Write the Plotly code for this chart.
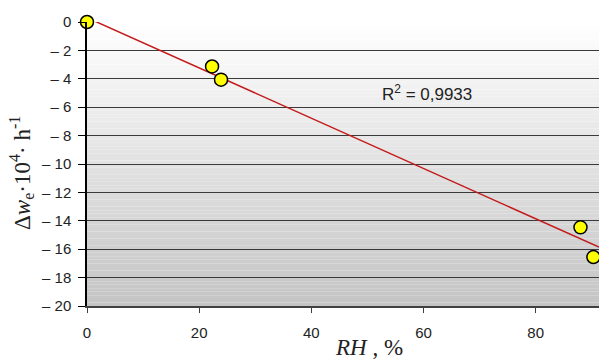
import numpy as np
import plotly.graph_objects as go

# Data
rh = [0, 22.3, 23.9, 88.0, 90.3]
dwe = [0, -3.13, -4.06, -14.46, -16.55]
x_ticks = [0, 20, 40, 60, 80]
y_ticks = [0, -2, -4, -6, -8, -10, -12, -14, -16, -18, -20]
y_ticktext = ["0"] + ["\u2013 " + str(abs(v)) for v in y_ticks[1:]]
r2_text = "R<sup>2</sup> = 0,9933"
x_title = "<i>RH</i> , %"
y_title = "\u0394<i>w</i><sub>e</sub>\u00b710<sup>4</sup>\u00b7 h<sup>-1</sup>"

x_max = 91.3
y_min, y_max = -20, 0

# Linear trend line fitted from data
slope, intercept = np.polyfit(rh, dwe, 1)
trend_x = np.linspace(0, x_max, 50)
trend_y = slope * trend_x + intercept

fig = go.Figure()

# Gradient background bands (white at top to gray at bottom)
n_bands = 80
shapes = []
for i in range(n_bands):
    t = (i + 0.5) / n_bands  # 0 at bottom, 1 at top
    c = int(round(196 + (255 - 196) * t))
    shapes.append(dict(
        type="rect", xref="x domain", yref="y domain",
        x0=0, x1=1, y0=i / n_bands, y1=(i + 1) / n_bands,
        fillcolor=f"rgb({c},{c},{c})", line=dict(width=0), layer="below"))

fig.add_trace(go.Scatter(
    x=trend_x, y=trend_y, mode="lines",
    line=dict(color="#c41a1a", width=1.5), hoverinfo="skip", showlegend=False))

fig.add_trace(go.Scatter(
    x=rh, y=dwe, mode="markers",
    marker=dict(color="#ffff00", size=13, line=dict(color="black", width=1.5)),
    cliponaxis=False, showlegend=False))

fig.add_annotation(
    x=60.7, y=-5.0, xref="x", yref="y", text=r2_text, showarrow=False,
    font=dict(family="Arial, Liberation Sans", size=17, color="#222222"))

serif = "Times New Roman, Liberation Serif, serif"
fig.add_annotation(
    x=0.551, y=-0.145, xref="paper", yref="paper", text=x_title, showarrow=False,
    xanchor="center", yanchor="middle",
    font=dict(family=serif, size=23, color="#222222"))
fig.add_annotation(
    x=-0.128, y=0.47, xref="paper", yref="paper", text=y_title, showarrow=False,
    textangle=-90, xanchor="center", yanchor="middle",
    font=dict(family=serif, size=23, color="#222222"))

fig.update_layout(
    width=599, height=359,
    margin=dict(l=87, r=0, t=22, b=53, autoexpand=False),
    paper_bgcolor="white", plot_bgcolor="rgba(0,0,0,0)",
    shapes=shapes,
    font=dict(family="Arial, Liberation Sans", size=15, color="#222222"),
    xaxis=dict(
        range=[0, x_max], tickvals=x_ticks, showgrid=False, zeroline=False,
        showline=True, linecolor="#404040", linewidth=1.5,
        ticks="outside", ticklen=5, tickcolor="#404040", ticklabelstandoff=7,
        automargin=False),
    yaxis=dict(
        range=[y_min, y_max], tickvals=y_ticks, ticktext=y_ticktext,
        showgrid=True, gridcolor="#3a3a3a", gridwidth=1, zeroline=False,
        showline=True, linecolor="black", linewidth=1.5,
        ticks="outside", ticklen=7, tickcolor="black", ticklabelstandoff=4,
        automargin=False),
)

fig.write_html("out.html", config={"displayModeBar": False},
               post_script="document.body.style.margin='0px';")
